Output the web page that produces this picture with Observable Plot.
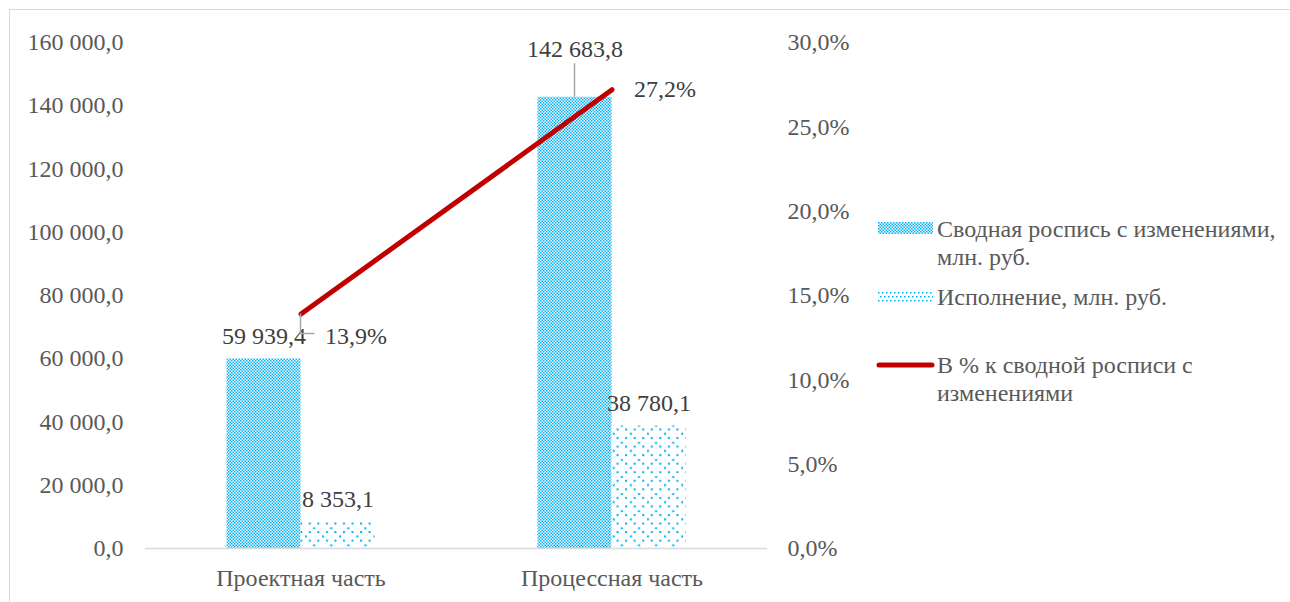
<!DOCTYPE html>
<html><head><meta charset="utf-8">
<script src="https://cdn.jsdelivr.net/npm/d3@7"></script>
<script src="https://cdn.jsdelivr.net/npm/@observablehq/plot@0.6"></script>
<style>
body{margin:0;background:#fff;font-family:"Liberation Serif","Times New Roman",serif;}
#frame{position:absolute;left:9px;top:9px;width:1400px;height:800px;border:1.5px solid #d9d9d9;box-sizing:border-box;}
#chart{position:absolute;left:0;top:0;}
.leg{position:absolute;color:#595959;font-size:24px;line-height:28px;white-space:nowrap;}
.sw{position:absolute;overflow:visible;}
</style></head><body>
<div id="frame"></div>
<div id="chart"></div>
<div id="legend"></div>
<script>
// ---- data ----
const categories = ["Проектная часть", "Процессная часть"];
const budget = [59939.4, 142683.8];      // Сводная роспись с изменениями, млн. руб.
const execution = [8353.1, 38780.1];     // Исполнение, млн. руб.
const percent = [13.9, 27.2];            // В % к сводной росписи с изменениями
const leftTicks = [0, 20000, 40000, 60000, 80000, 100000, 120000, 140000, 160000];
const rightTicks = [0, 5, 10, 15, 20, 25, 30];
const seriesNames = ["Сводная роспись с изменениями,\nмлн. руб.", "Исполнение, млн. руб.", "В % к сводной росписи с\nизменениями"];

const yMax = 160000, pctMax = 30;
const rows = categories.map((c, i) => ({cat: c, budget: budget[i], execution: execution[i], pct: percent[i], pctY: percent[i] / pctMax * yMax}));

const locale = d3.formatLocale({decimal: ",", thousands: "\u00a0", grouping: [3], currency: ["", ""]});
const fmtNum = locale.format(",.1f");
const fmtPct = v => (v).toFixed(1).replace(".", ",") + "%";

const W = 1290, H = 602, mL = 145, mR = 523, mT = 42, mB = 54;
const pIn = 0.524, pOut = 0.262;
const step = (W - mL - mR) / (categories.length - pIn + 2 * pOut);
const bw = step * (1 - pIn), half = bw / 2, q = bw / 4;

const blue = "#00B0F0";
const textColor = "#404040";
const FS = 24;

const plot = Plot.plot({
  width: W, height: H,
  marginLeft: mL, marginRight: mR, marginTop: mT, marginBottom: mB,
  style: {fontFamily: '"Liberation Serif", "Times New Roman", serif', fontSize: FS + "px", color: "#595959", background: "transparent", overflow: "visible"},
  x: {type: "band", domain: categories, paddingInner: pIn, paddingOuter: pOut, round: false},
  y: {domain: [0, yMax], nice: false},
  marks: [
    Plot.axisY({anchor: "left", ticks: leftTicks, tickFormat: fmtNum, tickSize: 0, tickPadding: 22, fontSize: FS}),
    Plot.axisY({anchor: "right", ticks: rightTicks.map(p => p / pctMax * yMax), tickFormat: v => fmtPct(v / yMax * pctMax), tickSize: 0, tickPadding: 20, fontSize: FS}),
    Plot.axisX({tickSize: 0, tickPadding: 20, fontSize: FS, label: null}),
    Plot.barY(rows, {x: "cat", y: "budget", fill: "url(#patBudget)", insetRight: half}),
    Plot.barY(rows, {x: "cat", y: "execution", fill: "url(#patExec)", insetLeft: half}),
    Plot.ruleY([0], {stroke: "#d9d9d9", strokeWidth: 1.5}),
    Plot.line(rows, {x: "cat", y: "pctY", stroke: "#C00000", strokeWidth: 5, strokeLinecap: "round"}),
    Plot.text(rows.filter((d, i) => i === 0), {x: "cat", y: "budget", text: d => fmtNum(d.budget), dx: -q, dy: -23, fill: textColor, fontSize: FS, lineAnchor: "middle"}),
    Plot.text(rows.filter((d, i) => i === 1), {x: "cat", y: "budget", text: d => fmtNum(d.budget), dx: -q, dy: -47.5, fill: textColor, fontSize: FS, lineAnchor: "middle"}),
    Plot.text(rows, {x: "cat", y: "execution", text: d => fmtNum(d.execution), dx: q, dy: -23, fill: textColor, fontSize: FS, lineAnchor: "middle"}),
    Plot.text(rows.filter((d, i) => i === 0), {x: "cat", y: "pctY", text: d => fmtPct(d.pct), dx: 24, dy: 22, textAnchor: "start", fill: textColor, fontSize: FS, lineAnchor: "middle"}),
    Plot.text(rows.filter((d, i) => i === 1), {x: "cat", y: "pctY", text: d => fmtPct(d.pct), dx: 22, dy: 0, textAnchor: "start", fill: textColor, fontSize: FS, lineAnchor: "middle"})
  ]
});

// patterns
const svg = d3.select(plot);
const defs = svg.insert("defs", ":first-child");
const p1 = defs.append("pattern").attr("id", "patBudget").attr("patternUnits", "userSpaceOnUse").attr("width", 3).attr("height", 3);
p1.append("rect").attr("width", 3).attr("height", 3).attr("fill", "#ffffff");
p1.append("rect").attr("width", 1.5).attr("height", 1.5).attr("fill", blue);
p1.append("rect").attr("x", 1.5).attr("y", 1.5).attr("width", 1.5).attr("height", 1.5).attr("fill", blue);
const P = 17.1, s = 2;
const p2 = defs.append("pattern").attr("id", "patExec").attr("patternUnits", "userSpaceOnUse").attr("width", P).attr("height", P);
p2.append("rect").attr("width", P).attr("height", P).attr("fill", "#fff");
[[1, 1], [9.55, 1], [1, 9.55], [9.55, 9.55], [14.3, 5.3], [5.3, 14.3]].forEach(([x, y]) =>
  p2.append("rect").attr("x", x).attr("y", y).attr("width", s).attr("height", s).attr("fill", blue));
const p3 = defs.append("pattern").attr("id", "patExecSmall").attr("patternUnits", "userSpaceOnUse").attr("width", 8).attr("height", 8);
p3.append("rect").attr("width", 8).attr("height", 8).attr("fill", "#fff");
[[0, 0], [4, 0], [2, 4], [6, 4]].forEach(([x, y]) =>
  p3.append("rect").attr("x", x).attr("y", y + 1).attr("width", 1.5).attr("height", 1.5).attr("fill", blue));

document.getElementById("chart").appendChild(plot);

// leader lines from library scales
const sx = plot.scale("x"), sy = plot.scale("y");
const cx = c => sx.apply(c) + sx.bandwidth / 2;
const lead = svg.append("g").attr("stroke", "#a6a6a6").attr("stroke-width", 1.5).attr("fill", "none");
{
  const d = rows[1];
  const x = cx(d.cat) - q, yTop = sy.apply(d.budget);
  lead.append("path").attr("d", `M${x},${yTop - 47.5 + 14}V${yTop}`);
}
{
  const d = rows[0];
  const x = cx(d.cat), y0 = sy.apply(d.pctY);
  lead.append("path").attr("d", `M${x},${y0}V${y0 + 20}H${x + 14}`);
}

// legend
const leg = document.getElementById("legend");
const items = [
  {sw: `<svg class="sw" style="left:878px;top:222px" width="55" height="12"><rect width="55" height="12" fill="url(#patBudget)"/></svg>`, top: 215},
  {sw: `<svg class="sw" style="left:878px;top:291px" width="55" height="11"><rect width="55" height="11" fill="url(#patExecSmall)"/></svg>`, top: 283},
  {sw: `<svg class="sw" style="left:875px;top:360px" width="62" height="10"><line x1="4" x2="57" y1="5" y2="5" stroke="#C00000" stroke-width="5" stroke-linecap="round"/></svg>`, top: 351}
];
items.forEach((it, i) => {
  leg.insertAdjacentHTML("beforeend", it.sw);
  const div = document.createElement("div");
  div.className = "leg";
  div.style.left = "937px";
  div.style.top = it.top + "px";
  div.innerHTML = seriesNames[i].split("\n").join("<br>");
  leg.appendChild(div);
});
</script>
</body></html>
